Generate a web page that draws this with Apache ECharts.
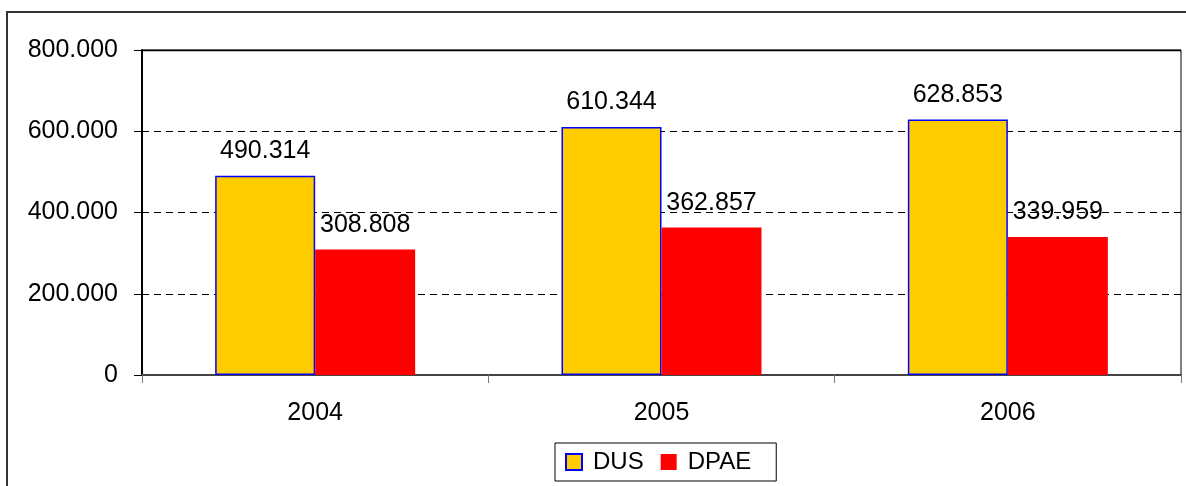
<!DOCTYPE html>
<html>
<head>
<meta charset="utf-8">
<script src="https://cdn.jsdelivr.net/npm/echarts@6/dist/echarts.min.js"></script>
<style>
html,body{margin:0;padding:0;background:#fff;}
#chart{width:1186px;height:486px;}
</style>
</head>
<body>
<div id="chart"></div>
<script>
const categories = ['2004', '2005', '2006'];
const seriesNames = ['DUS', 'DPAE'];
const dusValues = [490314, 610344, 628853];
const dpaeValues = [308808, 362857, 339959];
const yMin = 0, yMax = 800000, yInterval = 200000;

function fmt(v) {
  if (v === 0) return '0';
  const s = Math.round(v).toString();
  return s.replace(/\B(?=(\d{3})+(?!\d))/g, '.');
}

const FONT = 'Liberation Sans, Arial, sans-serif';
const chart = echarts.init(document.getElementById('chart'), null, {renderer: 'canvas'});
chart.setOption({
  animation: false,
  backgroundColor: '#fff',
  textStyle: {fontFamily: FONT},
  graphic: [{
    type: 'rect',
    shape: {x: 7, y: 12, width: 1200, height: 500},
    style: {fill: 'none', stroke: '#333', lineWidth: 2},
    silent: true, z: 100
  }, {
    type: 'line',
    shape: {x1: 142, y1: 50.5, x2: 1181, y2: 50.5},
    style: {stroke: '#000', lineWidth: 1.5},
    silent: true, z: 100
  }],
  grid: {
    left: 142, top: 50, right: 5, bottom: 111,
    show: true, borderColor: '#000', borderWidth: 1, backgroundColor: '#fff'
  },
  legend: {
    data: seriesNames.map((n, i) => ({
      name: n,
      itemStyle: i === 0 ? {color: '#FFCC00', borderColor: '#0000FF', borderWidth: 2} : {color: '#FF0000', borderWidth: 0}
    })),
    left: 555, top: 443,
    orient: 'horizontal',
    itemWidth: 16, itemHeight: 16, itemGap: 17,
    icon: 'rect',
    padding: [7, 25, 7, 10],
    borderColor: '#000', borderWidth: 1,
    textStyle: {fontFamily: FONT, fontSize: 24, color: '#000', padding: [0, 0, 0, 6]},
    selectedMode: false
  },
  xAxis: {
    type: 'category',
    data: categories,
    axisLine: {show: true, lineStyle: {color: '#444', width: 2}},
    axisTick: {show: true, length: 8, lineStyle: {color: '#777', width: 1}, interval: 0},
    axisLabel: {fontFamily: FONT, fontSize: 25, color: '#000', margin: 26},
    splitLine: {show: false}
  },
  yAxis: {
    type: 'value',
    min: yMin, max: yMax, interval: yInterval,
    axisLine: {show: true, lineStyle: {color: '#000', width: 2}},
    axisTick: {show: true, length: 8, lineStyle: {color: '#000', width: 1}},
    axisLabel: {fontFamily: FONT, fontSize: 25, color: '#000', margin: 24, formatter: fmt},
    splitLine: {show: true, lineStyle: {color: '#000', width: 1, type: [7, 5]}}
  },
  series: [
    {
      name: seriesNames[0], type: 'bar', data: dusValues,
      barWidth: 100, barGap: '0%',
      itemStyle: {color: '#FFCC00', borderColor: '#0000FF', borderWidth: 1.5},
      label: {show: true, position: 'top', distance: 12, formatter: p => fmt(p.value),
              fontFamily: FONT, fontSize: 25, color: '#000'}
    },
    {
      name: seriesNames[1], type: 'bar', data: dpaeValues,
      barWidth: 100, barGap: '0%',
      itemStyle: {color: '#FF0000'},
      label: {show: true, position: 'top', distance: 12, formatter: p => fmt(p.value),
              fontFamily: FONT, fontSize: 25, color: '#000'}
    }
  ]
});
</script>
</body>
</html>
